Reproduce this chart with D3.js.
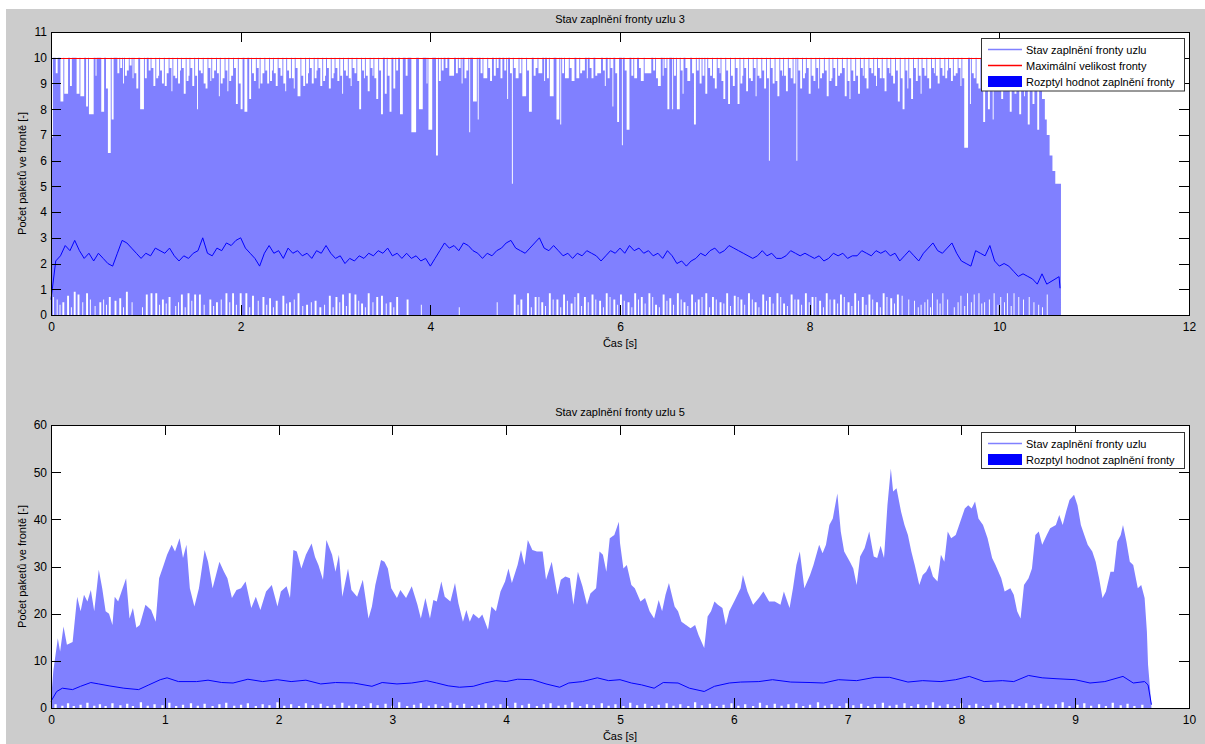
<!DOCTYPE html>
<html>
<head>
<meta charset="utf-8">
<title>Stav zaplnění fronty</title>
<style>
  body { margin: 0; background: #fff; }
  svg text { font-family: "Liberation Sans", Arial, sans-serif; fill: #000; }
  .axis path, .axis line { stroke: #000; shape-rendering: crispEdges; }
  .axis text { font-size: 12px; font-family: "Liberation Sans", Arial, sans-serif; }
</style>
</head>
<body>
<script src="https://cdn.jsdelivr.net/npm/d3@7"></script>
<script>
// ---------- data: uzel 3 ----------
var maxFronta = 10;

// upper bound of the spread drops below the queue limit: [t0, t1, value]
var uzel3Propady = [
  [0.00,0.02,6.9],[0.05,0.07,9.4],[0.10,0.13,8.3],[0.14,0.18,8.6],[0.20,0.22,8.9],
  [0.27,0.30,8.6],[0.31,0.35,8.5],[0.37,0.39,8.1],[0.40,0.45,7.8],[0.47,0.48,9.3],
  [0.53,0.56,7.9],[0.58,0.60,8.8],[0.60,0.63,6.3],[0.64,0.66,7.6],[0.70,0.72,9.4],
  [0.76,0.77,9.0],[0.80,0.82,9.5],[0.86,0.87,9.2],[0.90,0.92,8.8],[0.94,0.98,8.0],
  [1.03,1.05,9.5],[1.08,1.10,8.9],[1.13,1.14,9.3],[1.17,1.19,9.0],[1.22,1.24,9.4],
  [1.27,1.28,8.7],[1.31,1.33,9.2],[1.36,1.37,9.5],[1.40,1.42,8.6],[1.45,1.46,9.3],
  [1.49,1.51,8.9],[1.54,1.55,8.0],[1.58,1.60,9.4],[1.63,1.65,8.8],[1.68,1.69,9.1],
  [1.72,1.74,9.5],[1.77,1.78,8.5],[1.81,1.83,9.2],[1.86,1.87,8.7],[1.90,1.92,9.3],
  [1.95,1.97,8.2],[2.00,2.02,8.0],[2.04,2.07,7.9],[2.09,2.11,8.4],[2.14,2.16,9.1],
  [2.19,2.20,8.8],[2.23,2.25,9.4],[2.28,2.30,9.0],[2.33,2.34,9.5],[2.37,2.39,8.9],
  [2.42,2.44,9.3],[2.47,2.48,8.7],[2.51,2.53,9.2],[2.56,2.57,8.8],[2.60,2.63,8.5],
  [2.66,2.68,8.9],[2.71,2.72,9.4],[2.75,2.77,9.0],[2.80,2.81,9.5],[2.84,2.86,8.9],
  [2.89,2.90,9.3],[2.93,2.95,8.8],[2.98,2.99,9.4],[3.02,3.04,9.1],[3.07,3.08,8.6],
  [3.11,3.13,9.3],[3.16,3.17,8.9],[3.20,3.22,9.4],[3.25,3.27,8.0],[3.30,3.31,9.2],
  [3.34,3.36,8.7],[3.39,3.40,9.3],[3.43,3.45,8.4],[3.48,3.50,7.8],[3.52,3.54,8.6],
  [3.57,3.59,7.9],[3.61,3.63,8.8],[3.68,3.71,7.8],[3.74,3.76,9.3],[3.80,3.85,7.1],
  [3.88,3.92,8.0],[3.96,3.97,9.0],[3.98,4.02,7.2],[4.06,4.08,6.2],[4.09,4.11,9.1],
  [4.20,4.25,9.3],[4.33,4.34,9.0],[4.41,4.42,7.1],[4.45,4.49,8.3],[4.50,4.51,7.6],
  [4.56,4.60,9.2],[4.63,4.65,9.1],[4.70,4.72,9.6],[4.74,4.76,9.2],[4.81,4.82,8.4],
  [4.86,4.87,5.1],[4.90,4.93,9.2],[4.97,5.01,8.5],[5.04,5.07,7.9],[5.14,5.18,9.4],
  [5.20,5.21,9.1],[5.26,5.30,8.5],[5.33,5.36,7.6],[5.37,5.38,7.4],[5.42,5.46,9.2],
  [5.49,5.52,9.1],[5.54,5.57,9.2],[5.60,5.63,9.5],[5.65,5.66,9.2],[5.70,5.72,9.2],
  [5.76,5.80,9.4],[5.84,5.85,8.9],[5.92,5.93,8.1],[5.97,5.99,7.5],[6.02,6.03,6.6],
  [6.07,6.10,7.2],[6.15,6.18,9.2],[6.22,6.25,9.1],[6.28,6.33,9.4],[6.40,6.43,8.9],
  [6.45,6.46,9.3],[6.50,6.52,8.0],[6.55,6.56,8.0],[6.60,6.63,8.0],[6.66,6.67,8.6],
  [6.71,6.74,9.1],[6.78,6.80,7.4],[6.84,6.86,9.0],[6.90,6.92,8.6],[6.95,6.97,9.3],
  [7.00,7.02,8.8],[7.05,7.06,9.4],[7.09,7.11,8.4],[7.14,7.16,8.2],[7.19,7.21,8.9],
  [7.24,7.26,8.2],[7.29,7.30,9.3],[7.33,7.35,8.7],[7.38,7.40,9.1],[7.43,7.44,8.5],
  [7.47,7.49,9.2],[7.52,7.54,8.8],[7.57,7.58,6.0],[7.61,7.63,9.0],[7.66,7.68,8.5],
  [7.71,7.72,9.3],[7.75,7.77,8.7],[7.80,7.82,9.2],[7.86,7.87,6.0],[7.90,7.92,8.8],
  [7.95,7.96,9.4],[7.99,8.01,8.6],[8.04,8.06,9.1],[8.09,8.10,8.8],[8.13,8.15,9.4],
  [8.18,8.20,8.5],[8.23,8.24,9.2],[8.27,8.29,8.9],[8.32,8.34,9.4],[8.37,8.39,8.5],
  [8.42,8.43,8.4],[8.46,8.48,9.1],[8.51,8.53,8.6],[8.56,8.57,9.3],[8.60,8.62,8.8],
  [8.65,8.67,9.4],[8.70,8.71,8.9],[8.74,8.76,9.2],[8.79,8.81,8.7],[8.84,8.85,9.4],
  [8.88,8.90,9.0],[8.93,8.95,8.3],[8.98,9.00,8.0],[9.03,9.04,8.8],[9.07,9.09,8.4],
  [9.12,9.14,9.1],[9.17,9.18,8.6],[9.21,9.23,9.3],[9.26,9.28,8.8],[9.31,9.32,9.4],
  [9.35,9.37,9.0],[9.40,9.42,9.3],[9.45,9.46,9.5],[9.49,9.51,9.1],[9.54,9.56,9.4],
  [9.59,9.60,8.9],[9.63,9.67,6.5],[9.69,9.70,8.2],[9.73,9.75,9.2],[9.78,9.80,8.8],
  [9.83,9.85,7.5],[9.88,9.90,8.0],[9.93,9.94,7.6],[9.97,9.99,9.0],[10.02,10.04,8.4],
  [10.07,10.08,8.8],[10.11,10.13,7.9],[10.16,10.18,8.6],[10.21,10.23,7.8],[10.26,10.27,8.5],
  [10.30,10.32,7.4],[10.35,10.37,8.2],[10.40,10.42,7.2],[10.45,10.48,8.4],[10.48,10.50,7.6],
  [10.50,10.53,7.0],[10.53,10.56,6.2],[10.56,10.59,5.6],[10.59,10.65,5.1],
  // shallow drops between the larger ones
  [0.73,0.75,9.6],[0.78,0.80,9.3],[0.83,0.85,9.7],[0.88,0.90,9.4],[0.99,1.01,9.2],
  [1.06,1.08,9.6],[1.11,1.13,9.2],[1.15,1.17,9.5],[1.20,1.22,8.9],[1.25,1.27,9.6],
  [1.29,1.31,9.3],[1.34,1.36,9.0],[1.38,1.40,9.6],[1.43,1.45,9.1],[1.47,1.49,9.6],
  [1.52,1.54,9.3],[1.56,1.58,9.5],[1.61,1.63,9.0],[1.66,1.68,9.6],[1.70,1.72,9.2],
  [1.75,1.77,9.4],[1.79,1.81,9.0],[1.84,1.86,9.5],[1.88,1.90,9.1],[1.93,1.95,9.6],
  [1.98,2.00,9.0],[2.12,2.14,9.4],[2.17,2.19,9.6],[2.21,2.23,9.0],[2.26,2.28,9.5],
  [2.31,2.33,9.1],[2.35,2.37,9.4],[2.40,2.42,9.6],[2.45,2.47,9.0],[2.49,2.51,9.5],
  [2.54,2.56,9.2],[2.58,2.60,9.6],[2.64,2.66,9.3],[2.69,2.71,9.0],[2.73,2.75,9.6],
  [2.78,2.80,9.2],[2.82,2.84,9.6],[2.87,2.89,9.1],[2.91,2.93,9.6],[2.96,2.98,9.2],
  [3.00,3.02,9.6],[3.05,3.07,9.3],[3.09,3.11,9.5],[3.14,3.16,9.2],[3.18,3.20,9.6],
  [3.23,3.25,9.1],[3.28,3.30,9.5],[3.32,3.34,9.3],[3.37,3.39,9.6],[3.41,3.43,9.2],
  [3.46,3.48,9.5],[3.55,3.57,9.3],[3.64,3.66,9.5],
  [4.12,4.14,9.5],[4.16,4.18,9.6],[4.27,4.29,9.4],[4.30,4.32,9.6],[4.36,4.38,9.2],
  [4.38,4.40,9.5],[4.53,4.55,9.4],[4.61,4.63,9.6],[4.67,4.69,9.3],[4.78,4.80,9.5],
  [4.84,4.86,9.4],[4.88,4.90,9.6],[4.94,4.96,9.4],[5.02,5.04,9.5],[5.09,5.11,9.3],
  [5.11,5.13,9.6],[5.23,5.25,9.2],[5.39,5.41,9.4],[5.47,5.49,9.6],[5.58,5.60,9.4],
  [5.68,5.70,9.6],[5.74,5.76,9.3],[5.82,5.84,9.5],[5.87,5.89,9.2],[5.90,5.92,9.6],
  [5.95,5.97,9.4],[6.05,6.07,9.5],[6.12,6.14,9.3],[6.20,6.22,9.6],[6.26,6.28,9.4],
  [6.35,6.37,9.5],[6.38,6.40,9.2],[6.47,6.49,9.6],[6.57,6.59,9.3],[6.64,6.66,9.5],
  [6.69,6.71,9.6],[6.76,6.78,9.4],
  [6.81,6.83,9.5],[6.87,6.89,9.3],[6.93,6.95,9.6],[6.98,7.00,9.2],[7.03,7.05,9.6],
  [7.07,7.09,9.1],[7.12,7.14,9.5],[7.17,7.19,9.3],[7.22,7.24,9.6],[7.27,7.29,9.0],
  [7.31,7.33,9.6],[7.36,7.38,9.2],[7.41,7.43,9.6],[7.45,7.47,9.3],[7.50,7.52,9.5],
  [7.55,7.57,9.2],[7.59,7.61,9.6],[7.64,7.66,9.1],[7.69,7.71,9.5],[7.73,7.75,9.3],
  [7.78,7.80,9.6],[7.83,7.85,9.0],[7.88,7.90,9.5],[7.93,7.95,9.2],[7.97,7.99,9.6],
  [8.02,8.04,9.3],[8.07,8.09,9.6],[8.11,8.13,9.2],[8.16,8.18,9.5],[8.21,8.23,9.1],
  [8.25,8.27,9.6],[8.30,8.32,9.3],[8.35,8.37,9.6],[8.40,8.42,9.1],[8.44,8.46,9.5],
  [8.49,8.51,9.3],[8.54,8.56,9.6],[8.58,8.60,9.2],[8.63,8.65,9.6],[8.68,8.70,9.3],
  [8.72,8.74,9.6],[8.77,8.79,9.2],[8.82,8.84,9.6],[8.86,8.88,9.3],[8.91,8.93,9.5],
  [8.96,8.98,9.2],[9.01,9.03,9.5],[9.05,9.07,9.2],[9.10,9.12,9.6],[9.15,9.17,9.3],
  [9.19,9.21,9.6],[9.24,9.26,9.2],[9.29,9.31,9.6],[9.33,9.35,9.3],[9.38,9.40,9.6],
  [9.43,9.45,9.2],[9.47,9.49,9.6],[9.52,9.54,9.3],[9.57,9.59,9.6],[9.61,9.63,9.2],
  [9.71,9.73,9.4],[9.76,9.78,9.0],[9.81,9.83,9.5],[9.86,9.88,9.1],[9.91,9.93,9.4],
  [9.95,9.97,8.9],[10.00,10.02,9.3],[10.05,10.07,9.0],[10.09,10.11,9.4],[10.14,10.16,9.0],
  [10.19,10.21,9.3],[10.24,10.26,8.9],[10.28,10.30,9.2],[10.33,10.35,8.8],[10.38,10.40,9.1],
  [10.43,10.45,8.9]
];

// lower bound of the spread rises above zero: [t0, t1, value]
var uzel3Zdvihy = [
  [0.02,0.03,0.7],[0.06,0.07,0.6],[0.12,0.14,0.5],[0.17,0.19,0.75],[0.24,0.26,0.9],
  [0.28,0.30,0.8],[0.37,0.39,0.85],[0.41,0.42,0.6],[0.51,0.53,0.5],[0.55,0.56,0.6],
  [0.61,0.63,0.7],[0.67,0.69,0.55],[0.72,0.74,0.65],[0.79,0.81,0.9],[0.96,0.97,0.3],
  [1.00,1.02,0.8],[1.05,1.07,0.85],[1.10,1.12,0.85],[1.17,1.19,0.6],[1.24,1.26,0.7],
  [1.31,1.32,0.35],[1.37,1.39,0.8],[1.44,1.46,0.85],[1.51,1.53,0.8],[1.56,1.58,0.8],
  [1.67,1.69,0.6],[1.74,1.76,0.5],[1.84,1.86,0.85],[1.91,1.93,0.85],[1.99,2.01,0.85],
  [2.05,2.07,0.85],[2.12,2.14,0.75],[2.23,2.25,0.7],[2.30,2.32,0.65],[2.37,2.39,0.55],
  [2.44,2.46,0.75],[2.51,2.53,0.5],[2.60,2.62,0.85],[2.69,2.71,0.4],[2.78,2.80,0.55],
  [2.83,2.85,0.3],[2.93,2.95,0.75],[3.00,3.02,0.7],[3.07,3.09,0.8],[3.14,3.16,0.85],
  [3.20,3.22,0.8],[3.27,3.29,0.45],[3.34,3.36,0.85],[3.43,3.45,0.7],[3.48,3.50,0.75],
  [3.57,3.59,0.5],[3.64,3.66,0.7],[3.75,3.77,0.6],[3.90,3.91,0.4],[4.30,4.31,0.3],
  [4.70,4.71,0.5],[4.88,4.90,0.8],[4.95,4.97,0.6],[5.02,5.04,0.85],[5.10,5.12,0.7],
  [5.17,5.19,0.5],[5.25,5.27,0.85],[5.33,5.35,0.6],[5.40,5.42,0.8],[5.48,5.50,0.45],
  [5.55,5.57,0.85],[5.62,5.64,0.7],[5.70,5.72,0.8],[5.78,5.80,0.55],[5.85,5.87,0.85],
  [5.93,5.95,0.6],[6.00,6.02,0.8],[6.08,6.10,0.5],[6.15,6.17,0.85],[6.22,6.24,0.7],
  [6.30,6.32,0.85],[6.37,6.39,0.4],[6.45,6.47,0.8],[6.52,6.54,0.65],[6.60,6.62,0.85],
  [6.67,6.69,0.5],[6.75,6.77,0.8],[6.82,6.84,0.6],[6.90,6.92,0.85],[6.97,6.99,0.7],
  [7.05,7.07,0.5],[7.12,7.14,0.85],[7.20,7.22,0.75],[7.27,7.29,0.6],[7.35,7.37,0.85],
  [7.42,7.44,0.5],[7.50,7.52,0.8],[7.57,7.59,0.7],[7.65,7.67,0.85],[7.72,7.74,0.45],
  [7.80,7.82,0.8],[7.87,7.89,0.6],[7.95,7.97,0.85],[8.02,8.04,0.7],[8.10,8.12,0.55],
  [8.17,8.19,0.85],[8.25,8.27,0.6],[8.32,8.34,0.8],[8.40,8.42,0.5],[8.47,8.49,0.85],
  [8.55,8.57,0.7],[8.62,8.64,0.8],[8.70,8.72,0.5],[8.77,8.79,0.85],[8.85,8.87,0.65],
  [8.92,8.94,0.8],[8.97,8.98,0.75],[9.10,9.11,0.55],[9.17,9.18,0.4],[9.24,9.25,0.6],
  [9.29,9.30,0.85],[9.34,9.35,0.6],[9.40,9.41,0.85],[9.52,9.53,0.3],[9.59,9.60,0.75],
  [9.66,9.67,0.85],[9.73,9.74,0.8],[9.78,9.79,0.85],[9.84,9.85,0.5],[9.94,9.95,0.85],
  [10.01,10.02,0.7],[10.08,10.09,0.85],[10.15,10.16,0.85],[10.20,10.21,0.7],[10.31,10.32,0.7],
  [10.36,10.37,0.5],[10.50,10.51,0.8],
  // smaller ones in between
  [0.09,0.10,0.4],[0.21,0.22,0.3],[0.33,0.34,0.5],[0.46,0.47,0.35],[0.58,0.59,0.4],
  [0.76,0.77,0.3],[0.85,0.86,0.5],[1.14,1.15,0.4],[1.21,1.22,0.45],[1.34,1.35,0.5],
  [1.41,1.42,0.3],[1.48,1.49,0.55],[1.61,1.62,0.4],[1.71,1.72,0.35],[1.79,1.80,0.6],
  [1.88,1.89,0.5],[1.95,1.96,0.4],[2.09,2.10,0.3],[2.18,2.19,0.55],[2.27,2.28,0.4],
  [2.34,2.35,0.3],[2.48,2.49,0.45],[2.56,2.57,0.6],[2.65,2.66,0.35],[2.74,2.75,0.5],
  [2.88,2.89,0.4],[2.97,2.98,0.3],[3.04,3.05,0.5],[3.11,3.12,0.35],[3.24,3.25,0.55],
  [3.31,3.32,0.3],[3.39,3.40,0.5],[3.53,3.54,0.45],[3.61,3.62,0.3],
  [4.92,4.93,0.4],[5.06,5.07,0.3],[5.14,5.15,0.7],[5.21,5.22,0.35],[5.29,5.30,0.6],
  [5.37,5.38,0.3],[5.44,5.45,0.55],[5.52,5.53,0.7],[5.59,5.60,0.35],[5.66,5.67,0.5],
  [5.74,5.75,0.6],[5.82,5.83,0.3],[5.89,5.90,0.7],[5.97,5.98,0.4],[6.04,6.05,0.55],
  [6.12,6.13,0.3],[6.19,6.20,0.6],[6.26,6.27,0.45],[6.34,6.35,0.7],[6.41,6.42,0.3],
  [6.49,6.50,0.55],[6.56,6.57,0.4],[6.64,6.65,0.6],[6.71,6.72,0.35],[6.79,6.80,0.5],
  [6.86,6.87,0.7],[6.94,6.95,0.3],[7.01,7.02,0.6],[7.09,7.10,0.45],[7.16,7.17,0.35],
  [7.24,7.25,0.7],[7.31,7.32,0.4],[7.39,7.40,0.6],[7.46,7.47,0.3],[7.54,7.55,0.55],
  [7.61,7.62,0.45],[7.69,7.70,0.7],[7.76,7.77,0.35],[7.84,7.85,0.6],[7.91,7.92,0.4],
  [7.99,8.00,0.5],[8.06,8.07,0.7],[8.14,8.15,0.3],[8.21,8.22,0.6],[8.29,8.30,0.45],
  [8.36,8.37,0.7],[8.44,8.45,0.35],[8.51,8.52,0.55],[8.59,8.60,0.4],[8.66,8.67,0.6],
  [8.74,8.75,0.3],[8.81,8.82,0.7],[8.89,8.90,0.45],[9.04,9.05,0.6],[9.14,9.15,0.3],
  [9.21,9.22,0.5],[9.27,9.28,0.3],[9.37,9.38,0.45],[9.45,9.46,0.6],[9.56,9.57,0.5],
  [9.63,9.64,0.35],[9.70,9.71,0.5],[9.81,9.82,0.45],[9.89,9.90,0.6],[9.98,9.99,0.4],
  [10.05,10.06,0.5],[10.12,10.13,0.35],[10.25,10.26,0.6],[10.41,10.42,0.4],[10.45,10.46,0.3]
];

// queue state (dark line), sampled every 0.05 s from 0 to 10.50
var uzel3Stav = [
  0.6,2.1,2.3,2.7,2.5,2.9,2.5,2.2,2.4,2.1, 2.4,2.2,2.0,1.9,2.4,2.9,2.8,2.6,2.4,2.2,
  2.4,2.3,2.6,2.5,2.4,2.6,2.3,2.1,2.3,2.2, 2.4,2.5,3.0,2.4,2.3,2.6,2.5,2.8,2.7,2.9,
  3.0,2.6,2.4,2.2,1.9,2.4,2.7,2.4,2.5,2.2, 2.6,2.4,2.5,2.3,2.4,2.2,2.5,2.4,2.7,2.4,
  2.2,2.3,2.0,2.2,2.1,2.3,2.2,2.4,2.3,2.5, 2.4,2.6,2.3,2.4,2.2,2.4,2.2,2.3,2.1,2.2,
  1.9,2.2,2.5,2.8,2.6,2.7,2.5,2.8,2.7,2.5, 2.4,2.2,2.4,2.3,2.5,2.6,2.8,2.9,2.6,2.5,
  2.4,2.6,2.8,3.0,2.6,2.5,2.7,2.5,2.3,2.4, 2.2,2.4,2.3,2.5,2.4,2.3,2.1,2.3,2.5,2.4,
  2.6,2.4,2.7,2.5,2.6,2.4,2.5,2.3,2.4,2.2, 2.5,2.3,2.0,2.1,1.9,2.1,2.2,2.4,2.3,2.5,
  2.6,2.4,2.5,2.7,2.6,2.5,2.4,2.3,2.2,2.3, 2.5,2.3,2.4,2.2,2.2,2.3,2.5,2.4,2.3,2.4,
  2.3,2.2,2.3,2.1,2.2,2.4,2.3,2.4,2.2,2.3, 2.3,2.5,2.4,2.3,2.5,2.4,2.5,2.3,2.4,2.1,
  2.3,2.5,2.3,2.1,2.4,2.6,2.8,2.5,2.4,2.6, 2.8,2.4,2.1,2.0,1.9,2.5,2.4,2.3,2.7,2.1,
  1.9,2.0,1.9,1.7,1.5,1.6,1.5,1.4,1.2,1.6, 1.2
];
// last piece of the line after the sampled part: [t, value]
var uzel3StavKonec = [[10.63,1.49],[10.64,1.04]];
var uzel3Krok = 0.05;

// ---------- data: uzel 5 ----------
// upper bound of the spread: [t, value]
var uzel5Horni = [
  [0.00,1.5],[0.02,7.8],[0.06,14.8],[0.08,12],[0.11,17.3],[0.14,13.4],[0.19,14],[0.23,23.6],
  [0.26,20.5],[0.29,24],[0.32,22.6],[0.35,25],[0.38,20.5],[0.42,29.3],[0.45,25.4],[0.48,20.5],
  [0.51,20],[0.54,17.6],[0.56,23.6],[0.59,22.6],[0.62,24.7],[0.66,27.5],[0.69,19],[0.72,21.2],
  [0.75,17],[0.78,17.6],[0.83,21.9],[0.88,20.8],[0.92,18.3],[0.95,27.5],[0.99,30.3],[1.02,32.5],
  [1.06,34.6],[1.09,33.2],[1.13,36],[1.16,31.8],[1.19,34.6],[1.22,25.4],[1.26,21.5],[1.30,25.4],
  [1.33,30.3],[1.35,33.5],[1.38,31],[1.42,25.4],[1.45,28.2],[1.48,31],[1.52,28.9],[1.55,27.5],
  [1.59,23.3],[1.63,25],[1.67,25.4],[1.71,26.8],[1.76,21.2],[1.80,23.6],[1.84,20.8],[1.89,24.7],
  [1.94,26.1],[1.99,21.5],[2.02,24.7],[2.07,25.8],[2.10,23.3],[2.13,33.5],[2.16,33.2],[2.20,29.6],
  [2.24,32.5],[2.29,34.9],[2.32,32],[2.35,30.3],[2.39,27.2],[2.42,35.6],[2.47,32.5],[2.50,28.9],
  [2.53,32.5],[2.56,23.6],[2.61,29.6],[2.64,25],[2.69,23.6],[2.74,27.2],[2.79,19],[2.82,21.5],
  [2.85,26.1],[2.90,31.4],[2.93,31],[2.96,29.6],[2.99,25.4],[3.04,23.3],[3.07,25],[3.12,23.3],
  [3.17,25.8],[3.22,21.9],[3.25,19],[3.29,23.3],[3.33,19],[3.36,22.9],[3.39,22.6],[3.43,26.8],
  [3.46,23.6],[3.51,22.6],[3.55,26.5],[3.58,22.2],[3.62,18.3],[3.65,20.8],[3.68,18.3],[3.71,20],
  [3.76,19],[3.79,19.8],[3.84,16.6],[3.87,21.5],[3.91,20.5],[3.95,24.7],[3.99,26.8],[4.02,29.6],
  [4.05,26.5],[4.10,30.3],[4.13,33.5],[4.16,30.3],[4.19,35.6],[4.23,33.5],[4.27,33.2],[4.32,33.2],
  [4.35,27.2],[4.40,31],[4.45,24],[4.48,27.2],[4.52,27.9],[4.56,27.5],[4.59,21.9],[4.63,28.9],
  [4.67,25.8],[4.71,21.9],[4.74,24.3],[4.79,25.4],[4.82,33.2],[4.85,32.5],[4.88,28.9],[4.91,36],
  [4.95,36.7],[4.98,38.8],[4.99,39.5],[5.00,35],[5.03,29.6],[5.06,30.3],[5.10,26.1],[5.13,25.4],
  [5.18,22.6],[5.22,23.3],[5.26,20.5],[5.30,19],[5.34,22.9],[5.37,20.5],[5.40,24],[5.43,26.5],
  [5.48,21.5],[5.51,20.5],[5.54,18.3],[5.58,17.6],[5.62,16.9],[5.66,17.6],[5.69,15.5],[5.74,12.7],
  [5.77,19.4],[5.80,20.5],[5.83,22.6],[5.86,21.9],[5.90,21.2],[5.93,17.6],[5.96,20.5],[6.01,22.9],
  [6.06,25.4],[6.08,28.2],[6.12,24.7],[6.17,21.9],[6.22,23.3],[6.26,24.7],[6.31,22.6],[6.36,22.6],
  [6.41,21.9],[6.44,24.7],[6.49,21.2],[6.52,25.4],[6.55,30.3],[6.58,33.2],[6.62,25.4],[6.67,28.2],
  [6.70,30.3],[6.75,34.6],[6.78,32.8],[6.81,34.6],[6.84,38.8],[6.87,40.2],[6.91,45.5],[6.94,37.4],
  [6.97,33.2],[7.02,31],[7.05,29.6],[7.08,26.1],[7.11,32.1],[7.15,33.9],[7.19,37.4],[7.23,32.1],
  [7.26,31.8],[7.29,34.4],[7.32,31.8],[7.35,43],[7.38,50.8],[7.40,45.9],[7.43,46.6],[7.47,41.6],
  [7.50,38.8],[7.53,36.7],[7.56,33.2],[7.59,30.3],[7.63,26.1],[7.66,28.2],[7.69,28.9],[7.72,30.3],
  [7.75,27.9],[7.79,26.8],[7.82,32.5],[7.85,31],[7.88,37.4],[7.91,36],[7.95,36.7],[7.99,39.5],
  [8.03,42.3],[8.06,43],[8.09,42.3],[8.12,43.8],[8.15,40.2],[8.19,38.8],[8.23,36],[8.27,31.8],
  [8.30,30.3],[8.35,27.5],[8.38,24.7],[8.43,25.4],[8.46,24],[8.49,20.5],[8.52,19],[8.55,26.1],
  [8.59,27.5],[8.62,29.6],[8.65,36.7],[8.68,37.4],[8.71,34.6],[8.75,36.7],[8.78,38.1],[8.83,38.8],
  [8.86,40.9],[8.89,38.8],[8.92,41.6],[8.95,44.1],[8.99,45.2],[9.02,43],[9.05,38.8],[9.08,36.7],
  [9.11,34.6],[9.15,33.2],[9.18,31],[9.21,27.5],[9.24,23.3],[9.27,24.7],[9.31,28.9],[9.34,28.9],
  [9.37,35.3],[9.40,36.7],[9.42,38.8],[9.45,35.3],[9.48,31],[9.51,30.3],[9.55,25.4],[9.58,26.1],
  [9.61,23.3],[9.63,16.2],[9.64,9.2],[9.66,3.5],[9.67,0]
];

// lower bound of the spread, short lifts above zero: [t, value]
var uzel5Dolni = [
  [0.03,0.8],[0.09,0.5],[0.14,1.0],[0.19,0.4],[0.25,0.7],[0.31,1.1],[0.37,0.5],[0.42,0.8],
  [0.47,0.4],[0.53,1.0],[0.60,0.6],[0.66,0.9],[0.71,0.4],[0.78,1.2],[0.84,0.5],[0.90,0.8],
  [0.97,0.6],[1.03,1.1],[1.09,0.4],[1.15,0.7],[1.22,1.0],[1.28,0.5],[1.34,0.9],[1.41,0.4],
  [1.47,0.8],[1.53,1.1],[1.60,0.5],[1.66,0.7],[1.72,1.0],[1.79,0.4],[1.85,0.8],[1.91,0.6],
  [1.98,1.2],[2.04,0.5],[2.10,0.8],[2.17,0.4],[2.23,1.0],[2.29,0.6],[2.36,0.9],[2.42,0.4],
  [2.48,0.7],[2.55,1.1],[2.61,0.5],[2.67,0.8],[2.74,0.4],[2.80,1.0],[2.86,0.6],[2.93,0.9],
  [2.99,0.5],[3.05,1.2],[3.12,0.4],[3.18,0.7],[3.24,1.0],[3.31,0.5],[3.37,0.8],[3.43,0.4],
  [3.50,1.1],[3.56,0.6],[3.62,0.9],[3.69,0.4],[3.75,0.7],[3.81,1.0],[3.88,0.5],[3.94,0.8],
  [4.00,0.4],[4.07,1.1],[4.13,0.6],[4.19,0.9],[4.26,0.4],[4.32,0.8],[4.38,1.0],[4.45,0.5],
  [4.51,0.7],[4.57,1.2],[4.64,0.4],[4.70,0.8],[4.76,0.6],[4.83,1.0],[4.89,0.5],[4.95,0.8],
  [5.02,0.4],[5.08,1.1],[5.14,0.6],[5.21,0.9],[5.27,0.4],[5.33,0.7],[5.40,1.0],[5.46,0.5],
  [5.52,0.8],[5.59,0.4],[5.65,1.2],[5.71,0.6],[5.78,0.9],[5.84,0.4],[5.90,0.7],[5.97,1.0],
  [6.03,0.5],[6.09,0.8],[6.16,0.4],[6.22,1.1],[6.28,0.6],[6.35,0.9],[6.41,0.5],[6.47,0.8],
  [6.54,1.0],[6.60,0.4],[6.66,0.7],[6.73,1.2],[6.79,0.5],[6.85,0.8],[6.92,0.4],[6.98,1.0],
  [7.04,0.6],[7.11,0.9],[7.17,0.4],[7.23,0.8],[7.30,1.1],[7.36,0.5],[7.42,0.7],[7.49,1.0],
  [7.55,0.4],[7.61,0.8],[7.68,0.6],[7.74,1.2],[7.80,0.5],[7.87,0.8],[7.93,0.4],[7.99,1.0],
  [8.06,0.6],[8.12,0.9],[8.18,0.4],[8.25,0.7],[8.31,1.1],[8.37,0.5],[8.44,0.8],[8.50,0.4],
  [8.56,1.0],[8.63,0.6],[8.69,0.9],[8.75,0.5],[8.82,0.8],[8.88,1.2],[8.94,0.4],[9.01,0.7],
  [9.07,1.0],[9.13,0.5],[9.20,0.8],[9.26,0.4],[9.32,1.1],[9.39,0.6],[9.45,0.9],[9.51,0.4],
  [9.58,0.7]
];
var uzel5Vzorek = 0.02;   // length of one lift, s

// queue state (dark line): [t, value]
var uzel5Stav = [
  [0.00,1.4],[0.05,3.5],[0.10,4.2],[0.19,3.9],[0.26,4.6],[0.35,5.4],[0.42,5.1],[0.51,4.7],
  [0.64,4.2],[0.77,3.9],[0.86,4.9],[0.96,6.0],[1.02,6.4],[1.12,5.6],[1.28,5.6],[1.38,5.9],
  [1.50,5.4],[1.60,5.3],[1.73,6.1],[1.86,5.6],[1.99,6.0],[2.11,5.6],[2.24,5.9],[2.37,5.1],
  [2.50,5.4],[2.66,5.3],[2.82,4.6],[2.91,5.4],[3.04,5.1],[3.17,5.3],[3.30,5.8],[3.39,5.3],
  [3.49,4.7],[3.59,4.4],[3.71,4.6],[3.81,5.3],[3.91,5.8],[4.00,5.6],[4.10,6.1],[4.23,6.0],
  [4.35,5.1],[4.47,4.4],[4.55,5.3],[4.67,5.6],[4.80,6.4],[4.90,5.8],[5.00,6.0],[5.10,5.3],
  [5.19,4.9],[5.30,4.2],[5.38,5.4],[5.51,5.3],[5.61,4.2],[5.74,3.5],[5.83,4.6],[5.96,5.3],
  [6.06,5.5],[6.22,5.6],[6.34,6.0],[6.50,5.5],[6.67,5.4],[6.79,5.3],[6.92,6.0],[7.08,5.8],
  [7.24,6.5],[7.37,6.5],[7.53,5.5],[7.66,5.8],[7.82,5.6],[7.95,6.0],[8.07,6.7],[8.20,5.6],
  [8.36,5.8],[8.46,5.6],[8.59,6.9],[8.71,6.4],[8.84,6.2],[9.00,6.0],[9.13,5.3],[9.26,5.6],
  [9.42,6.7],[9.51,5.3],[9.61,5.6],[9.64,4.9],[9.67,0.7]
];

// ---------- layout ----------
var W = 1205, H = 744;
var left = 51, right = 1189;

var svg = d3.select("body").append("svg")
  .attr("width", W).attr("height", H);

svg.append("rect").attr("x", 6).attr("y", 9)
  .attr("width", W - 6).attr("height", H - 9)
  .attr("fill", "#cccccc");

// turn [t0,t1,v] events on a base level into a step series
function eventSeries(events, base, tStart, tEnd) {
  var ev = events.slice().sort(function(a, b) { return a[0] - b[0]; });
  var s = [[tStart, base]];
  ev.forEach(function(e) {
    s.push([e[0], e[2]]);
    s.push([e[1], base]);
  });
  s.push([tEnd, base]);
  return s;
}

// explicit vertices of a step-after series
function steps(s) {
  var out = [];
  for (var i = 0; i < s.length; i++) {
    out.push(s[i]);
    if (i < s.length - 1) out.push([s[i + 1][0], s[i][1]]);
  }
  return out;
}

function panel(cfg) {
  var x = d3.scaleLinear().domain(cfg.xDomain).range([left, right]);
  var y = d3.scaleLinear().domain(cfg.yDomain).range([cfg.bottom, cfg.top]);
  var g = svg.append("g");

  g.append("rect").attr("x", left).attr("y", cfg.top)
    .attr("width", right - left).attr("height", cfg.bottom - cfg.top)
    .attr("fill", "#fff");

  // spread band
  var up = cfg.upperSteps ? steps(cfg.upper) : cfg.upper;
  var poly = up.concat(steps(cfg.lower).reverse());
  var line = d3.line().x(function(d) { return x(d[0]); }).y(function(d) { return y(d[1]); });
  g.append("path").attr("d", line(poly) + "Z")
    .attr("fill", "#8080ff").attr("stroke", "none");

  if (cfg.limit !== undefined) {
    g.append("line")
      .attr("x1", x(cfg.xDomain[0])).attr("x2", x(cfg.xDomain[1]))
      .attr("y1", Math.round(y(cfg.limit)) + 0.5).attr("y2", Math.round(y(cfg.limit)) + 0.5)
      .attr("stroke", "#ff0000").attr("stroke-width", 1);
  }

  g.append("path").attr("d", line(cfg.stav))
    .attr("fill", "none").attr("stroke", "#0000ff").attr("stroke-width", 1);

  // axes, ticks pointing inwards
  var h = cfg.bottom, t = cfg.top;
  g.append("g").attr("class", "axis").attr("transform", "translate(0," + h + ")")
    .call(d3.axisBottom(x).tickValues(cfg.xTicks).tickSizeInner(-10).tickSizeOuter(0)
      .tickPadding(7).tickFormat(d3.format("d")));
  g.append("g").attr("class", "axis").attr("transform", "translate(0," + t + ")")
    .call(d3.axisTop(x).tickValues(cfg.xTicks).tickSizeInner(-10).tickSizeOuter(0).tickFormat(""));
  g.append("g").attr("class", "axis").attr("transform", "translate(" + left + ",0)")
    .call(d3.axisLeft(y).tickValues(cfg.yTicks).tickSizeInner(-10).tickSizeOuter(0)
      .tickPadding(4).tickFormat(d3.format("d")));
  g.append("g").attr("class", "axis").attr("transform", "translate(" + right + ",0)")
    .call(d3.axisRight(y).tickValues(cfg.yTicks).tickSizeInner(-10).tickSizeOuter(0).tickFormat(""));

  // titles
  g.append("text").attr("x", (left + right) / 2).attr("y", t - 9)
    .attr("text-anchor", "middle").style("font-size", "11px").text(cfg.title);
  g.append("text").attr("x", (left + right) / 2).attr("y", h + 32)
    .attr("text-anchor", "middle").style("font-size", "11px").text("Čas [s]");
  g.append("text")
    .attr("transform", "translate(26," + (t + h) / 2 + ") rotate(-90)")
    .attr("text-anchor", "middle").style("font-size", "11px")
    .text("Počet paketů ve frontě [-]");

  // legend
  var lg = g.append("g").attr("transform", "translate(981," + cfg.legendTop + ")");
  var rows = cfg.legend;
  lg.append("rect").attr("x", 0.5).attr("y", 0.5).attr("width", 203)
    .attr("height", rows.length * 16.5 + 3).attr("fill", "#fff")
    .attr("stroke", "#333").attr("stroke-width", 1);
  rows.forEach(function(r, i) {
    var cy = 11.5 + i * 16;
    if (r.type === "line") {
      lg.append("line").attr("x1", 7).attr("x2", 41).attr("y1", cy).attr("y2", cy)
        .attr("stroke", r.color).attr("stroke-width", 1.3);
    } else {
      lg.append("rect").attr("x", 7).attr("y", cy - 5.5).attr("width", 34).attr("height", 11)
        .attr("fill", r.color);
    }
    lg.append("text").attr("x", 45).attr("y", cy + 4).style("font-size", "11px").text(r.label);
  });
}

var uzel3StavBody = uzel3Stav.map(function(v, i) { return [i * uzel3Krok, v]; })
  .concat(uzel3StavKonec);

var uzel5DolniUdalosti = uzel5Dolni.map(function(d) { return [d[0], d[0] + uzel5Vzorek, d[1]]; });

panel({
  title: "Stav zaplnění fronty uzlu 3",
  top: 32, bottom: 315,
  xDomain: [0, 12], yDomain: [0, 11],
  xTicks: d3.range(0, 13, 2), yTicks: d3.range(0, 12, 1),
  upper: eventSeries(uzel3Propady, maxFronta, 0, 10.65),
  upperSteps: true,
  lower: eventSeries(uzel3Zdvihy, 0, 0, 10.65),
  stav: uzel3StavBody,
  limit: maxFronta,
  legendTop: 38,
  legend: [
    { type: "line", color: "#8080ff", label: "Stav zaplnění fronty uzlu" },
    { type: "line", color: "#ff0000", label: "Maximální velikost fronty" },
    { type: "patch", color: "#0000ff", label: "Rozptyl hodnot zaplnění fronty" }
  ]
});

panel({
  title: "Stav zaplnění fronty uzlu 5",
  top: 425, bottom: 708,
  xDomain: [0, 10], yDomain: [0, 60],
  xTicks: d3.range(0, 11, 1), yTicks: d3.range(0, 61, 10),
  upper: uzel5Horni,
  upperSteps: false,
  lower: eventSeries(uzel5DolniUdalosti, 0, 0, 9.67),
  stav: uzel5Stav,
  legendTop: 432,
  legend: [
    { type: "line", color: "#8080ff", label: "Stav zaplnění fronty uzlu" },
    { type: "patch", color: "#0000ff", label: "Rozptyl hodnot zaplnění fronty" }
  ]
});
</script>
</body>
</html>
